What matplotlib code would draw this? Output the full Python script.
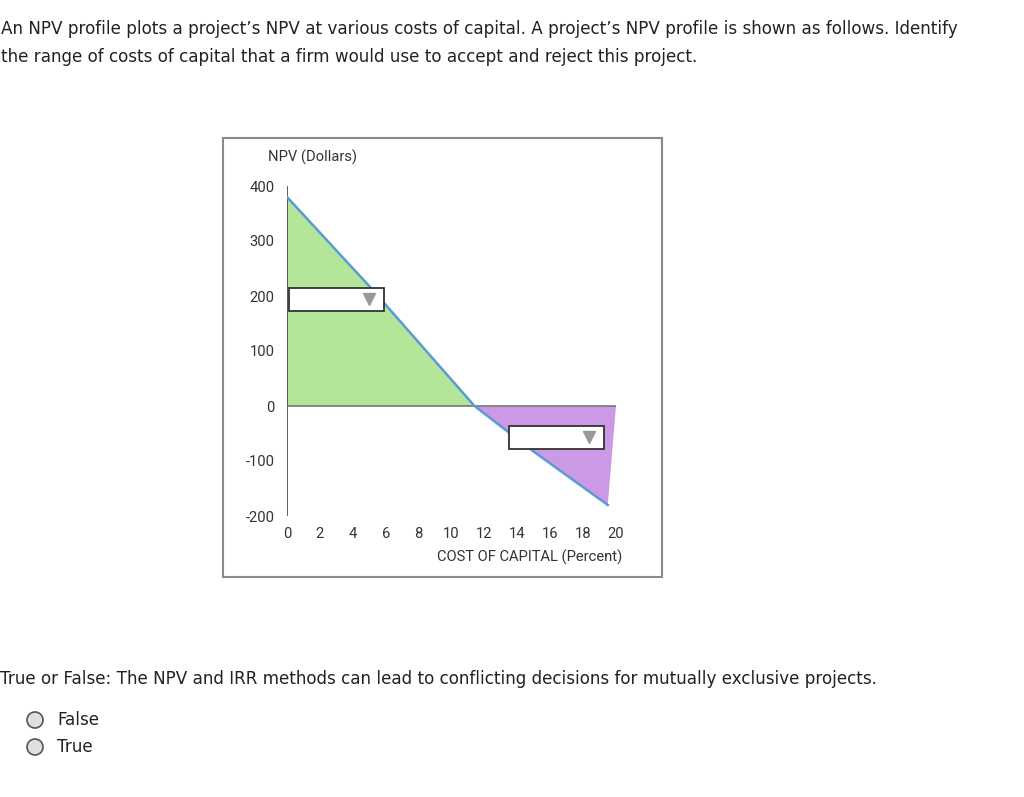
import matplotlib.pyplot as plt
from matplotlib.patches import Rectangle, Ellipse

plt.rcParams['axes.unicode_minus'] = False

# NPV profile data
cost = [0, 5, 11.4, 15, 19.5]
npv = [380, 218, 0, -83, -180]
irr = 11.4
xticks = [0, 2, 4, 6, 8, 10, 12, 14, 16, 18, 20]
yticks = [-200, -100, 0, 100, 200, 300, 400]
options = ['False', 'True']

W, H = 1024, 797
def px(x, y):
    return x / W, 1 - y / H

fig = plt.figure(figsize=(W / 100, H / 100), dpi=100)
fig.patch.set_facecolor('white')

qsize = 12.1
q1 = "An NPV profile plots a project\u2019s NPV at various costs of capital. A project\u2019s NPV profile is shown as follows. Identify"
q2 = "the range of costs of capital that a firm would use to accept and reject this project."
fig.text(*px(1, 29), q1, fontsize=qsize, va='center', ha='left', color='#222222')
fig.text(*px(1, 57), q2, fontsize=qsize, va='center', ha='left', color='#222222')

# frame round the chart
fig.patches.append(Rectangle(px(223, 577), 439 / W, 439 / H, transform=fig.transFigure,
                             fill=False, edgecolor='#8a8a8a', lw=1.5))

l, b = px(287, 516)
ax = fig.add_axes([l, b, (616 - 287) / W, (516 - 186) / H])
ax.set_xlim(0, 20)
ax.set_ylim(-200, 400)
for s in ax.spines.values():
    s.set_visible(False)
ax.patch.set_alpha(0)

acc_x = [c for c in cost if c <= irr]
acc_y = [v for c, v in zip(cost, npv) if c <= irr]
ax.fill([0] + acc_x, [0] + acc_y, color='#b3e699', lw=0)
rej_x = [c for c in cost if c >= irr] + [20]
rej_y = [v for c, v in zip(cost, npv) if c >= irr] + [0]
ax.fill(rej_x, rej_y, color='#cc99e6', lw=0)

ax.plot([0, 0], [-200, 400], color='#444444', lw=1.2)
ax.plot([0, 20], [0, 0], color='#777777', lw=1.2)
ax.plot(cost, npv, color='#5b9bd5', lw=1.8)

chart_font = 'Roboto'
csize = 10.6
ax.set_xticks(xticks)
ax.set_yticks(yticks)
ax.tick_params(length=0, labelsize=csize, colors='#333333')
ax.tick_params(axis='x', pad=8)
ax.tick_params(axis='y', pad=9)
for t in ax.get_xticklabels() + ax.get_yticklabels():
    t.set_fontfamily(chart_font)

fig.text(*px(313, 157), 'NPV (Dollars)', fontsize=csize, ha='center', va='center',
         family=chart_font, color='#333333')
fig.text(*px(622, 557), 'COST OF CAPITAL (Percent)', fontsize=csize, ha='right', va='center',
         family=chart_font, color='#333333')

# dropdown widgets
for x0, y0 in [(289, 288), (509, 426)]:
    fig.patches.append(Rectangle(px(x0, y0 + 23), 95 / W, 23 / H, transform=fig.transFigure,
                                 facecolor='white', edgecolor='#333333', lw=1.3, zorder=5))
    fig.lines.append(plt.Line2D([(x0 + 80) / W], [1 - (y0 + 11) / H], marker='v', ms=8,
                                color='#999999', transform=fig.transFigure, zorder=6))

fig.text(*px(0, 679), "True or False: The NPV and IRR methods can lead to conflicting decisions for mutually exclusive projects.",
         fontsize=qsize, va='center', ha='left', color='#222222')
for i, opt in enumerate(options):
    y = 720 + 27 * i
    fig.patches.append(Ellipse(px(35, y), 16 / W, 16 / H, transform=fig.transFigure,
                               facecolor='#e0e0e0', edgecolor='#555555', lw=1.2))
    fig.text(*px(57, y), opt, fontsize=qsize, va='center', ha='left', color='#222222')

fig.savefig('out.png', dpi=100)
